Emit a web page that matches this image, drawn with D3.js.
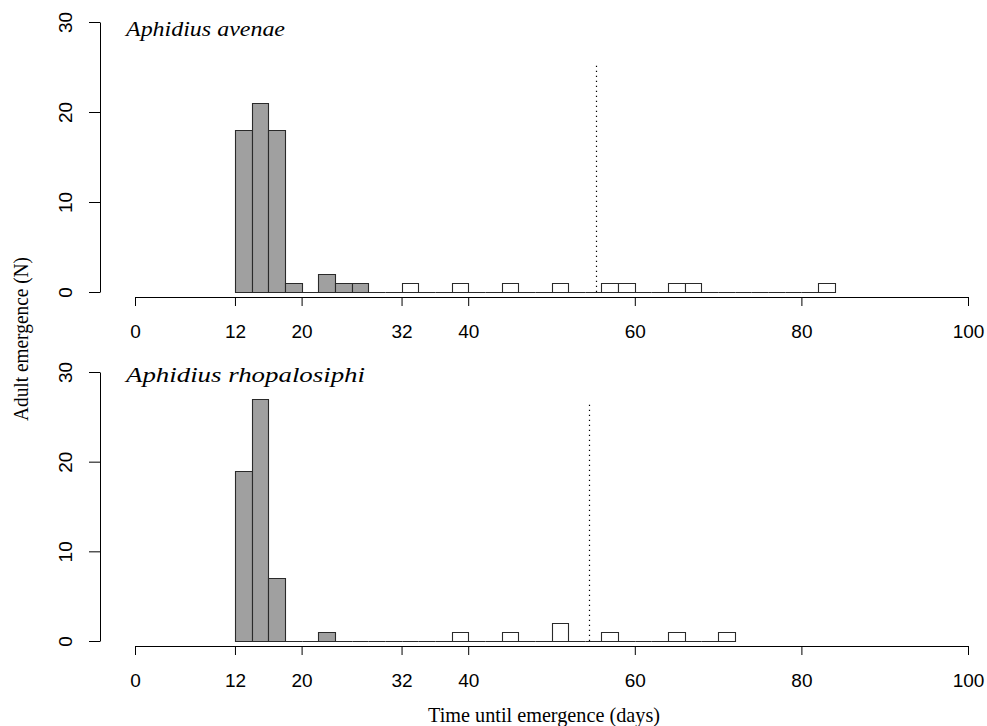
<!DOCTYPE html>
<html><head><meta charset="utf-8">
<script src="https://cdn.jsdelivr.net/npm/d3@7"></script>
<style>
html,body{margin:0;padding:0;background:#fff;}
svg{display:block;}
</style></head>
<body>
<svg id="chart" width="987" height="726"></svg>
<script>
// ---- data ----
const binStart = 12;          // first bin left edge (days)
const binWidth = 2;           // bin width (days)
const xTicks = [0, 12, 20, 32, 40, 60, 80, 100];
const yTicks = [0, 10, 20, 30];

// Aphidius avenae: gray bins start at 12, white bins start at 28
const avenaeGray  = [18, 21, 18, 1, 0, 2, 1, 1];
const avenaeWhite = [0,0,1,0,0,1,0,0,1,0,0,1,0,0,1,1,0,0,1,1,0,0,0,0,0,0,0,1];
const avenaeCut   = 55.3;     // dotted line position (days)
const avenaeCutTop = 25.2;

// Aphidius rhopalosiphi
const rhopGray  = [19, 27, 7, 0, 0, 1, 0, 0];
const rhopWhite = [0,0,0,0,0,1,0,0,1,0,0,2,0,0,1,0,0,0,1,0,0,1];
const rhopCut   = 54.5;
const rhopCutTop = 26.6;

const panels = [
  {name: "Aphidius avenae", gray: avenaeGray, white: avenaeWhite, cut: avenaeCut, cutTop: avenaeCutTop,
   y0: 292, y30: 22, axisY: 297, titleY: 36, titleLen: 159},
  {name: "Aphidius rhopalosiphi", gray: rhopGray, white: rhopWhite, cut: rhopCut, cutTop: rhopCutTop,
   y0: 641, y30: 372, axisY: 646, titleY: 382, titleLen: 239}
];

const svg = d3.select("#chart");
const x = d3.scaleLinear().domain([0, 100]).range([135, 968]);
const sans = "'Liberation Sans', Arial, sans-serif";
const serif = "'Liberation Serif', 'Times New Roman', serif";

panels.forEach(p => {
  const y = d3.scaleLinear().domain([0, 30]).range([p.y0, p.y30]);
  const g = svg.append("g");

  const bins = [];
  p.gray.forEach((v, i) => bins.push({x0: binStart + i * binWidth, v, fill: "#a0a0a0"}));
  const whiteStart = binStart + p.gray.length * binWidth;
  p.white.forEach((v, i) => bins.push({x0: whiteStart + i * binWidth, v, fill: "#ffffff"}));

  g.selectAll("path.bar").data(bins).join("path")
    .attr("class", "bar")
    .attr("d", d => {
      const a = Math.round(x(d.x0)) + 0.5, b = Math.round(x(d.x0 + binWidth)) + 0.5;
      const yb = Math.round(y(0)) + 0.5, yt = Math.round(y(d.v)) + 0.5;
      return `M${a},${yb}V${yt}H${b}V${yb}Z`;
    })
    .attr("fill", d => d.fill)
    .attr("stroke", "#2a2a2a")
    .attr("stroke-width", 1.1);

  // dotted line
  g.append("line")
    .attr("x1", Math.round(x(p.cut)) + 0.5).attr("x2", Math.round(x(p.cut)) + 0.5)
    .attr("y1", y(0)).attr("y2", y(p.cutTop))
    .attr("stroke", "#000").attr("stroke-width", 1.2)
    .attr("stroke-dasharray", "1.2,3.8");

  // x axis
  const xa = g.append("g").attr("transform", `translate(0,${p.axisY})`)
    .call(d3.axisBottom(x).tickValues(xTicks).tickSize(9).tickSizeOuter(0).tickFormat(d3.format("d")));
  xa.select(".domain").attr("stroke", "#000");
  xa.selectAll(".tick line").attr("stroke", "#000");
  xa.selectAll(".tick text").attr("y", 41).attr("dy", 0)
    .attr("font-family", sans).attr("font-size", 19).attr("fill", "#000");

  // y axis
  const ya = g.append("g").attr("transform", `translate(100,0)`)
    .call(d3.axisLeft(y).tickValues(yTicks).tickSize(11).tickSizeOuter(0).tickFormat(d3.format("d")));
  ya.select(".domain").attr("stroke", "#000");
  ya.selectAll(".tick line").attr("stroke", "#000");
  ya.selectAll(".tick text")
    .attr("transform", "rotate(-90)")
    .attr("x", 0).attr("y", -28).attr("dy", 0)
    .attr("text-anchor", "middle")
    .attr("font-family", sans).attr("font-size", 19).attr("fill", "#000");

  // species name
  g.append("text")
    .attr("x", 126).attr("y", p.titleY)
    .attr("font-family", serif).attr("font-style", "italic").attr("font-size", 21)
    .attr("textLength", p.titleLen).attr("lengthAdjust", "spacingAndGlyphs")
    .attr("fill", "#000")
    .text(p.name);
});

// axis titles
svg.append("text")
  .attr("transform", "translate(28,339) rotate(-90)")
  .attr("text-anchor", "middle")
  .attr("font-family", serif).attr("font-size", 21)
  .attr("textLength", 164).attr("lengthAdjust", "spacingAndGlyphs")
  .attr("fill", "#000")
  .text("Adult emergence (N)");

svg.append("text")
  .attr("x", 544).attr("y", 722)
  .attr("text-anchor", "middle")
  .attr("font-family", serif).attr("font-size", 21)
  .attr("textLength", 232).attr("lengthAdjust", "spacingAndGlyphs")
  .attr("fill", "#000")
  .text("Time until emergence (days)");
</script>
</body></html>
